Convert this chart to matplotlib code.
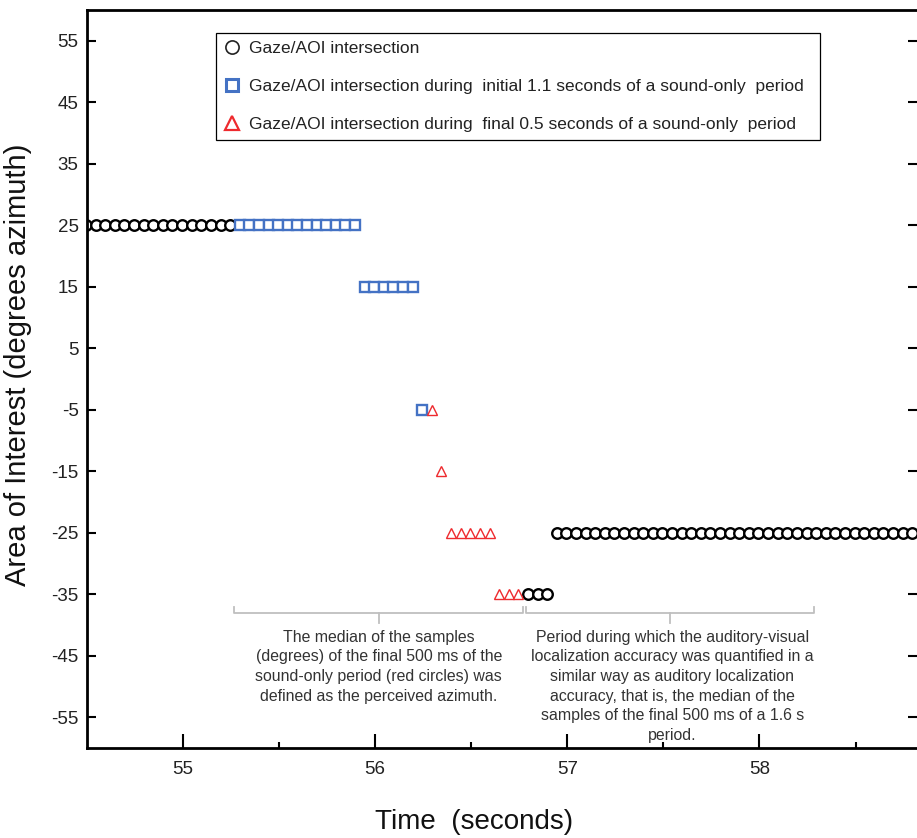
import numpy as np
import matplotlib as mpl
import matplotlib.pyplot as plt
from matplotlib.lines import Line2D

mpl.rcParams['font.family'] = ['Liberation Sans', 'DejaVu Sans']
mpl.rcParams['axes.unicode_minus'] = False

# Gaze/AOI intersection samples (time in s, AOI in degrees azimuth)
gaze_time = [54.495, 54.545, 54.595, 54.645, 54.695, 54.745, 54.795, 54.845,
             54.895, 54.945, 54.995, 55.045, 55.095, 55.145, 55.195, 55.245,
             56.795, 56.845, 56.895,
             56.945, 56.995, 57.045, 57.095, 57.145, 57.195, 57.245, 57.295,
             57.345, 57.395, 57.445, 57.495, 57.545, 57.595, 57.645, 57.695,
             57.745, 57.795, 57.845, 57.895, 57.945, 57.995, 58.045, 58.095,
             58.145, 58.195, 58.245, 58.295, 58.345, 58.395, 58.445, 58.495,
             58.545, 58.595, 58.645, 58.695, 58.745, 58.795]
gaze_aoi = [25] * 16 + [-35] * 3 + [-25] * 38

# initial 1.1 s of the sound-only period
initial_time = [55.295, 55.345, 55.395, 55.445, 55.495, 55.545, 55.595,
                55.645, 55.695, 55.745, 55.795, 55.845, 55.895,
                55.945, 55.995, 56.045, 56.095, 56.145, 56.195,
                56.245]
initial_aoi = [25] * 13 + [15] * 6 + [-5]

# final 0.5 s of the sound-only period
final_time = [56.295, 56.345, 56.395, 56.445, 56.495, 56.545, 56.595,
              56.645, 56.695, 56.745]
final_aoi = [-5, -15, -25, -25, -25, -25, -25, -35, -35, -35]

# periods marked with brackets below the data
sound_only_period = (55.266, 56.771)
av_period = (56.786, 58.286)

BLUE = '#4472C4'
RED = '#EE2A2E'
GREY_TXT = '#333333'

fig = plt.figure(figsize=(9.17, 8.38), dpi=100)
ax = fig.add_axes([87 / 917, 90 / 838, 830 / 917, 738 / 838])

ax.plot(gaze_time, gaze_aoi, linestyle='none', marker='o', markersize=7.6,
        markerfacecolor='white', markeredgecolor='black', markeredgewidth=1.7)
ax.plot(initial_time, initial_aoi, linestyle='none', marker='s', markersize=6.9,
        markerfacecolor='white', markeredgecolor=BLUE, markeredgewidth=1.7)
ax.plot(final_time, final_aoi, linestyle='none', marker='^', markersize=7.6,
        markerfacecolor='white', markeredgecolor=RED, markeredgewidth=1.0)

ax.set_xlim(54.5, 58.82)
ax.set_ylim(-60, 60)
ax.set_xticks([55, 56, 57, 58])
ax.set_xticks([55.5, 56.5, 57.5, 58.5], minor=True)
ax.set_yticks(np.arange(-55, 56, 10))

for s in ['left', 'bottom', 'top']:
    ax.spines[s].set_linewidth(2)
ax.spines['right'].set_visible(False)

ax.tick_params(axis='x', which='major', direction='in', length=10, width=1.5,
               labelsize=13.5, pad=9, labelcolor='#222222')
ax.tick_params(axis='x', which='minor', direction='in', length=4.5, width=1.5)
ax.tick_params(axis='y', direction='in', length=6.5, width=1.5, right=True,
               labelsize=13.5, pad=6, labelcolor='#222222')

ax.set_xlabel('Time  (seconds)', fontsize=20, color='#111111')
ax.xaxis.set_label_coords(0.466, -0.083)
ax.set_ylabel('Area of Interest (degrees azimuth)', fontsize=21, color='#111111')
ax.yaxis.set_label_coords(-0.066, 0.519)


# curly-ish brackets under the data
def bracket(x0, x1):
    xm = (x0 + x1) / 2
    ax.plot([x0, x0, x1, x1], [-37.0, -38.1, -38.1, -37.0], color='#BFBFBF',
            lw=1.3, clip_on=False, solid_joinstyle='round')
    ax.plot([xm, xm], [-38.1, -39.7], color='#BFBFBF', lw=1.3, clip_on=False)
    return xm


left_mid = bracket(*sound_only_period)
right_mid = bracket(*av_period)

ax.text(left_mid, -40.8,
        'The median of the samples\n(degrees) of the final 500 ms of the\n'
        'sound-only period (red circles) was\ndefined as the perceived azimuth.',
        ha='center', va='top', fontsize=11.4, color=GREY_TXT, linespacing=1.38)
ax.text(right_mid + 0.01, -40.8,
        'Period during which the auditory-visual\nlocalization accuracy was quantified in a\n'
        'similar way as auditory localization\naccuracy, that is, the median of the\n'
        'samples of the final 500 ms of a 1.6 s\nperiod.',
        ha='center', va='top', fontsize=11.4, color=GREY_TXT, linespacing=1.38)

handles = [
    Line2D([], [], linestyle='none', marker='o', markersize=9.5,
           markerfacecolor='white', markeredgecolor='#222222', markeredgewidth=1.2),
    Line2D([], [], linestyle='none', marker='s', markersize=8,
           markerfacecolor='white', markeredgecolor=BLUE, markeredgewidth=2.2),
    Line2D([], [], linestyle='none', marker='^', markersize=10,
           markerfacecolor='white', markeredgecolor=RED, markeredgewidth=1.6),
]
labels = ['Gaze/AOI intersection',
          'Gaze/AOI intersection during  initial 1.1 seconds of a sound-only  period',
          'Gaze/AOI intersection during  final 0.5 seconds of a sound-only  period']
leg = ax.legend(handles, labels, loc='upper left', mode='expand',
                bbox_to_anchor=(216 / 917, 1 - 138 / 838, 604 / 917, 105 / 838),
                bbox_transform=fig.transFigure, borderaxespad=0, borderpad=0.45,
                fontsize=12.5, handlelength=1.0, handletextpad=0.45,
                labelspacing=1.32, fancybox=False, framealpha=1, edgecolor='black')
leg.get_frame().set_linewidth(0.9)
for t in leg.get_texts():
    t.set_color('#222222')

fig.savefig('out.png', dpi=100)
